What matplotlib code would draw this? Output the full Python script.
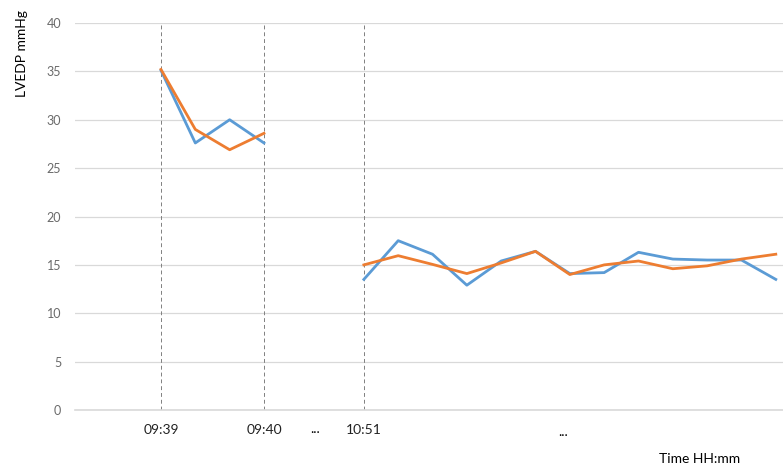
import matplotlib
matplotlib.use("Agg")
import matplotlib.pyplot as plt

# sample positions (sample index, gap between sessions)
x_first = [0, 1, 2, 3]
x_second = [5.91 + k for k in range(13)]

blue_first = [35.1, 27.6, 30.0, 27.6]
orange_first = [35.2, 29.0, 26.9, 28.6]
blue_second = [13.5, 17.5, 16.1, 12.9, 15.4, 16.4, 14.1, 14.2, 16.3, 15.6, 15.5, 15.5, 13.5]
orange_second = [15.0, 15.95, 15.05, 14.1, 15.2, 16.4, 14.0, 15.0, 15.4, 14.6, 14.9, 15.6, 16.1]

tick_pos = [0, 3, 5.91]
tick_labels = ["09:39", "09:40", "10:51"]
ellipsis_pos = [4.49, 11.71]

BLUE = "#5B9BD5"
ORANGE = "#ED7D31"

plt.rcParams['font.family'] = ['Lato', 'DejaVu Sans']

fig = plt.figure(figsize=(7.83, 4.66), dpi=100)
ax = fig.add_axes([75/783, 1-410/466, 1-75/783, (410-23)/466])

ax.set_ylim(0, 40)
ax.set_xlim(-2.505, 18.12)
ax.set_yticks(range(0, 41, 5))
ax.grid(axis='y', color='#D9D9D9', lw=0.9)
ax.set_axisbelow(True)
for s in ['top', 'right', 'left']:
    ax.spines[s].set_visible(False)
ax.spines['bottom'].set_color('#D9D9D9')
ax.spines['bottom'].set_linewidth(1.2)
ax.tick_params(axis='y', length=0, labelsize=9, labelcolor='#6A6A6A', pad=10)
ax.tick_params(axis='x', length=0, labelsize=10, labelcolor='#222222', pad=10)
ax.set_xticks(tick_pos)
ax.set_xticklabels(tick_labels)

for xp in tick_pos:
    ax.axvline(xp, color='#808080', lw=0.7, ls=(0, (4, 3)), zorder=1)

ax.plot(x_first, blue_first, color=BLUE, lw=2.0, zorder=3)
ax.plot(x_first, orange_first, color=ORANGE, lw=2.0, zorder=4)
ax.plot(x_second, blue_second, color=BLUE, lw=2.0, zorder=3)
ax.plot(x_second, orange_second, color=ORANGE, lw=2.0, zorder=4)

trans = ax.get_xaxis_transform()
ax.text(ellipsis_pos[0], -0.05, "...", transform=trans, ha='center', va='center', fontsize=10)
ax.text(ellipsis_pos[1], -0.058, "...", transform=trans, ha='center', va='center', fontsize=10)

fig.text(700/783, 1-459/466, "Time HH:mm", ha='center', va='center', fontsize=10)
fig.text(22/783, 1-54/466, "LVEDP mmHg", ha='center', va='center', rotation=90, fontsize=10)

fig.savefig("out.png", dpi=100)
